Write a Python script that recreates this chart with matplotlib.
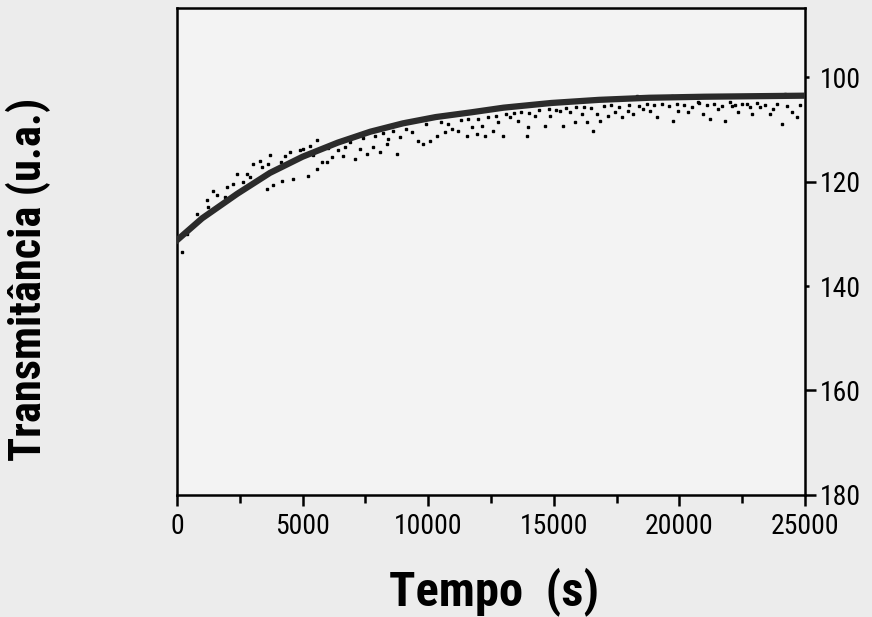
import matplotlib
matplotlib.use("Agg")
import matplotlib.pyplot as plt
from matplotlib.ticker import MultipleLocator

# Fitted curve
fit_t = [0, 1000, 2400, 3700, 5000, 6400, 7700, 9000, 10300, 11700,
         13000, 14900, 16800, 18800, 21000, 23000, 25000]
fit_v = [131.2, 127.0, 122.3, 118.3, 115.2, 112.5, 110.4, 108.8, 107.6, 106.7,
         105.8, 104.9, 104.3, 103.9, 103.7, 103.6, 103.5]

# Measured points (approximate)
data_t = [200, 800, 1190, 1240, 1430, 1910, 2230, 2390, 2630, 2900,
          3030, 3300, 3580, 3700, 3820, 3620, 4140, 4180, 4500, 4620,
          5020, 5220, 5290, 5570, 5570, 5770, 5970,
          6170, 6610, 6690, 7090, 7290, 7560, 7800, 8080, 8360, 8400,
          8760, 8880, 9360, 9600, 9790, 10070, 10350, 10670, 10950, 11190,
          11540, 11740, 11940, 12140, 12260,
          12580, 12780, 12980, 13260, 13580, 13930, 13970, 14250, 14650, 14850,
          15250, 15370, 15650, 15840, 16120, 16320, 16560, 16720, 16840, 17160,
          17440, 17720, 17950, 18150, 18310, 18550,
          18830, 19110, 19710, 19750, 19950, 20340, 20740, 20940, 21220, 21540,
          21820, 22100, 22330, 22690, 22890, 23210, 23610, 23730, 24090, 24200,
          24480, 24680,
          # denser band just under the curve
          400, 1600, 2000, 2800, 3400, 4300, 4900, 5400, 6000, 6400,
          6900, 7400, 7900, 8200, 8600, 9100, 9900, 10500, 10800, 11300,
          11600, 12000, 12400, 12700, 13100, 13400, 13700, 14000, 14400, 14800,
          15100, 15500, 15900, 16200, 16500, 17000, 17300, 17600, 18000, 18400,
          18700, 19000, 19300, 19600, 19900, 20200, 20500, 20800, 21100, 21400,
          21700, 22000, 22200, 22500, 22800, 23100, 23400, 23900, 24300, 24800]
data_v = [133.5, 126.1, 123.4, 124.8, 121.7, 122.9, 120.4, 118.5, 120.0, 119.0,
          116.6, 116.0, 121.3, 114.9, 120.6, 116.6, 116.2, 119.8, 114.3, 119.4,
          113.7, 118.9, 113.1, 112.0, 117.5, 116.2, 116.2,
          115.2, 115.0, 113.3, 115.6, 113.7, 114.7, 113.3, 114.3, 112.8, 111.8,
          114.7, 111.4, 110.5, 112.2, 112.8, 112.2, 111.2, 110.5, 109.9, 110.3,
          111.2, 109.5, 110.9, 109.3, 111.2,
          110.3, 108.6, 111.2, 107.6, 108.4, 111.2, 109.5, 107.4, 109.3, 107.4,
          106.5, 109.3, 106.7, 108.6, 107.0, 108.6, 110.3, 107.0, 108.4, 107.4,
          106.7, 107.6, 106.5, 107.0, 103.6, 106.1,
          106.5, 107.6, 103.6, 108.4, 106.5, 106.7, 104.8, 107.0, 108.0, 106.1,
          108.4, 105.5, 106.7, 105.1, 107.0, 105.7, 107.0, 106.1, 108.9, 103.2,
          106.7, 107.6,
          130.0, 122.5, 121.0, 118.6, 117.2, 115.1, 113.9, 114.9, 113.6, 113.9,
          112.4, 111.6, 111.2, 110.7, 110.2, 109.9, 109.0, 108.6, 108.9, 108.2,
          108.0, 107.9, 107.5, 107.3, 107.0, 106.9, 106.6, 106.9, 106.3, 106.0,
          106.2, 105.9, 105.7, 105.6, 105.9, 105.5, 105.3, 105.7, 105.2, 105.4,
          105.1, 105.3, 105.0, 105.5, 105.0, 105.2, 105.6, 104.9, 105.3, 105.0,
          105.4, 104.8, 105.2, 105.0, 105.6, 104.9, 105.3, 105.0, 105.4, 105.2]

x_ticks = [0, 5000, 10000, 15000, 20000, 25000]
y_major = [120, 160, 180]
y_minor = [100, 140]

font = "Roboto Condensed"

fig = plt.figure(figsize=(8.72, 6.17), dpi=100)
fig.patch.set_facecolor("#ececec")
ax = fig.add_axes([0.203, 0.198, 0.72, 0.789])
ax.set_facecolor("#f3f3f3")

ax.plot(data_t, data_v, "s", color="black", markersize=2.0, zorder=2)
ax.plot(fit_t, fit_v, "-", color="#2b2b2b", linewidth=4.5, zorder=3)

ax.set_xlim(0, 25000)
ax.set_ylim(180, 86.7)

ax.set_xticks(x_ticks)
ax.set_xticklabels([str(t) for t in x_ticks], family=font, fontsize=20)
ax.xaxis.set_minor_locator(MultipleLocator(2500))
ax.tick_params(axis="x", which="major", direction="out", length=8, width=1.8, pad=5)
ax.tick_params(axis="x", which="minor", direction="out", length=6, width=1.8)

ax.yaxis.tick_right()
ax.set_yticks(y_major, labels=[str(v) for v in y_major], family=font, fontsize=20)
ax.set_yticks(y_minor, labels=[str(v) for v in y_minor], minor=True, family=font, fontsize=20)
ax.tick_params(axis="y", which="major", direction="out", length=8, width=1.8, pad=3)
ax.tick_params(axis="y", which="minor", direction="out", length=3, width=1.8, pad=8)

for side in ["left", "right", "top", "bottom"]:
    ax.spines[side].set_linewidth(1.8)

fig.text(0.567, 0.042, "Tempo  (s)", family=font, fontsize=35, fontweight="bold",
         ha="center", va="center")
fig.text(0.033, 0.547, "Transmitância (u.a.)", rotation=90, family=font,
         fontsize=32, fontweight="bold", ha="center", va="center")

fig.savefig("out.png", dpi=100, facecolor=fig.get_facecolor())
